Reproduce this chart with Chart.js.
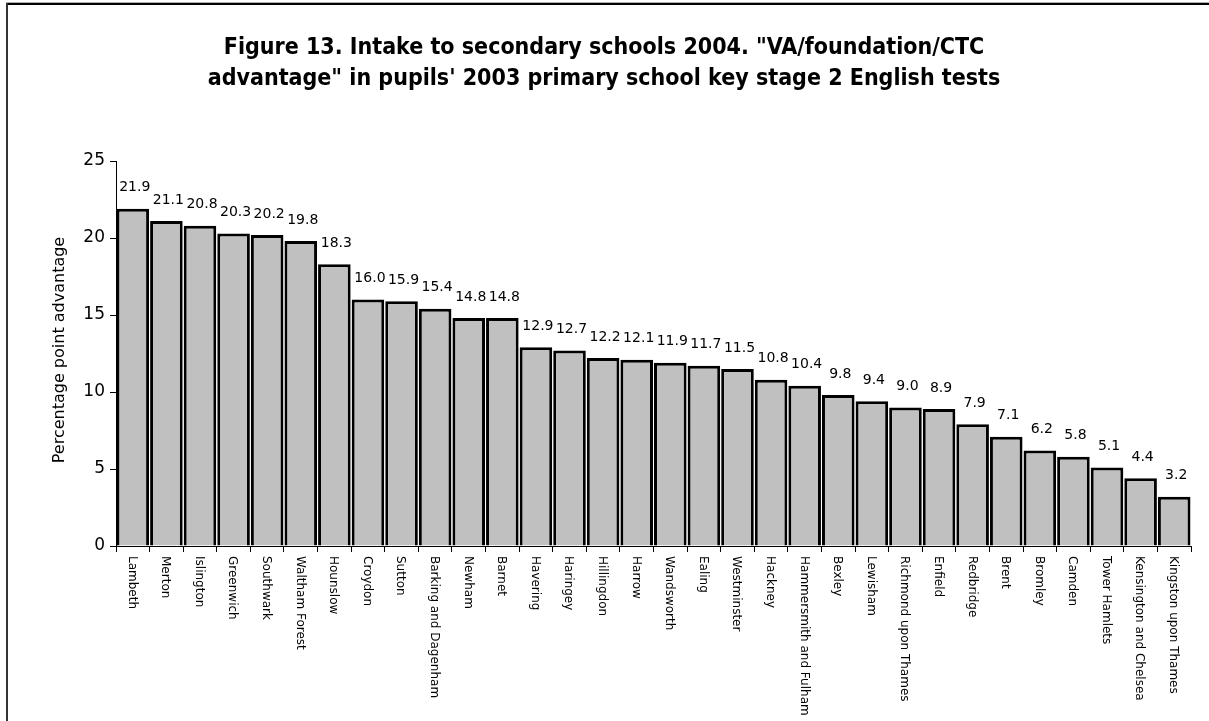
<!DOCTYPE html>
<html>
<head>
<meta charset="utf-8">
<script src="https://cdn.jsdelivr.net/npm/chart.js@4.4.1/dist/chart.umd.min.js"></script>
<style>
  html, body { margin: 0; padding: 0; background: #fff; }
  #wrap { width: 1209px; height: 721px; position: relative; }
</style>
</head>
<body>
<div id="wrap"><canvas id="chart" width="1209" height="721"></canvas></div>
<script>
const boroughs = ['Lambeth','Merton','Islington','Greenwich','Southwark','Waltham Forest','Hounslow','Croydon','Sutton','Barking and Dagenham','Newham','Barnet','Havering','Haringey','Hillingdon','Harrow','Wandsworth','Ealing','Westminster','Hackney','Hammersmith and Fulham','Bexley','Lewisham','Richmond upon Thames','Enfield','Redbridge','Brent','Bromley','Camden','Tower Hamlets','Kensington and Chelsea','Kingston upon Thames'];
const advantage = [21.9,21.1,20.8,20.3,20.2,19.8,18.3,16.0,15.9,15.4,14.8,14.8,12.9,12.7,12.2,12.1,11.9,11.7,11.5,10.8,10.4,9.8,9.4,9.0,8.9,7.9,7.1,6.2,5.8,5.1,4.4,3.2];
const titleLines = ['Figure 13. Intake to secondary schools 2004. "VA/foundation/CTC', 'advantage" in pupils\' 2003 primary school key stage 2 English tests'];
const yTitle = 'Percentage point advantage';
const yTicks = [0, 5, 10, 15, 20, 25];

const BODY_FONT = '"DejaVu Sans", sans-serif';

// frame, title, axis title, category names and value labels
const decor = {
  id: 'decor',
  beforeDraw(chart){
    const ctx = chart.ctx;
    ctx.save();
    ctx.fillStyle = '#b0b0b0';
    ctx.fillRect(6, 2, 1203, 1);
    ctx.fillStyle = '#000';
    ctx.fillRect(6, 3, 1203, 2);
    ctx.fillStyle = '#333';
    ctx.fillRect(6, 3, 2, 718);
    ctx.restore();
  },
  afterDraw(chart){
    const ctx = chart.ctx;
    ctx.save();
    ctx.fillStyle = '#000';
    ctx.textAlign = 'center';
    ctx.textBaseline = 'middle';
    ctx.font = 'bold 23px "DejaVu Sans Condensed", "DejaVu Sans", sans-serif';
    ctx.fillText(titleLines[0], 604, 48);
    ctx.fillText(titleLines[1], 604, 79);

    ctx.font = '16px ' + BODY_FONT;
    ctx.translate(60, 350);
    ctx.rotate(-Math.PI/2);
    ctx.fillText(yTitle, 0, 0);
    ctx.restore();

    // category names, reading top to bottom
    const xs = chart.scales.x;
    ctx.save();
    ctx.font = '12px ' + BODY_FONT;
    ctx.fillStyle = '#000';
    ctx.textAlign = 'left';
    ctx.textBaseline = 'middle';
    boroughs.forEach((name, i) => {
      ctx.save();
      ctx.translate(xs.getPixelForTick(i) - 1, xs.top + 10);
      ctx.rotate(Math.PI/2);
      ctx.fillText(name, 0, 0);
      ctx.restore();
    });
    ctx.restore();

    ctx.save();
    ctx.font = '14px ' + BODY_FONT;
    ctx.fillStyle = '#000';
    ctx.textAlign = 'center';
    ctx.textBaseline = 'middle';
    const meta = chart.getDatasetMeta(0);
    meta.data.forEach((bar, i) => {
      ctx.fillText(advantage[i].toFixed(1), bar.x + 2, bar.y - 21);
    });
    ctx.restore();
  }
};

new Chart(document.getElementById('chart'), {
  type: 'bar',
  data: {
    labels: boroughs,
    datasets: [{
      data: advantage,
      backgroundColor: '#c0c0c0',
      borderColor: '#000',
      borderWidth: 3,
      barPercentage: 0.97,
      categoryPercentage: 1.0
    }]
  },
  options: {
    responsive: false,
    animation: false,
    layout: { padding: { top: 161, right: 18, left: 0, bottom: 0 } },
    plugins: { legend: { display: false }, tooltip: { enabled: false }, title: { display: false } },
    scales: {
      x: {
        afterFit(s){ s.height = 175; },
        grid: { display: true, drawOnChartArea: false, drawTicks: true, tickLength: 6, color: '#000', offset: true },
        border: { display: true, color: '#000', width: 1 },
        ticks: { display: false, autoSkip: false }
      },
      y: {
        min: 0, max: 25,
        afterFit(s){ s.width = 116; },
        afterBuildTicks(s){ s.ticks = yTicks.map(v => ({ value: v })); },
        grid: { display: true, drawOnChartArea: false, drawTicks: true, tickLength: 6, color: '#000' },
        border: { display: true, color: '#000', width: 1 },
        ticks: { color: '#000', padding: 5, font: { family: BODY_FONT, size: 17 } }
      }
    }
  },
  plugins: [decor]
});
</script>
</body>
</html>
